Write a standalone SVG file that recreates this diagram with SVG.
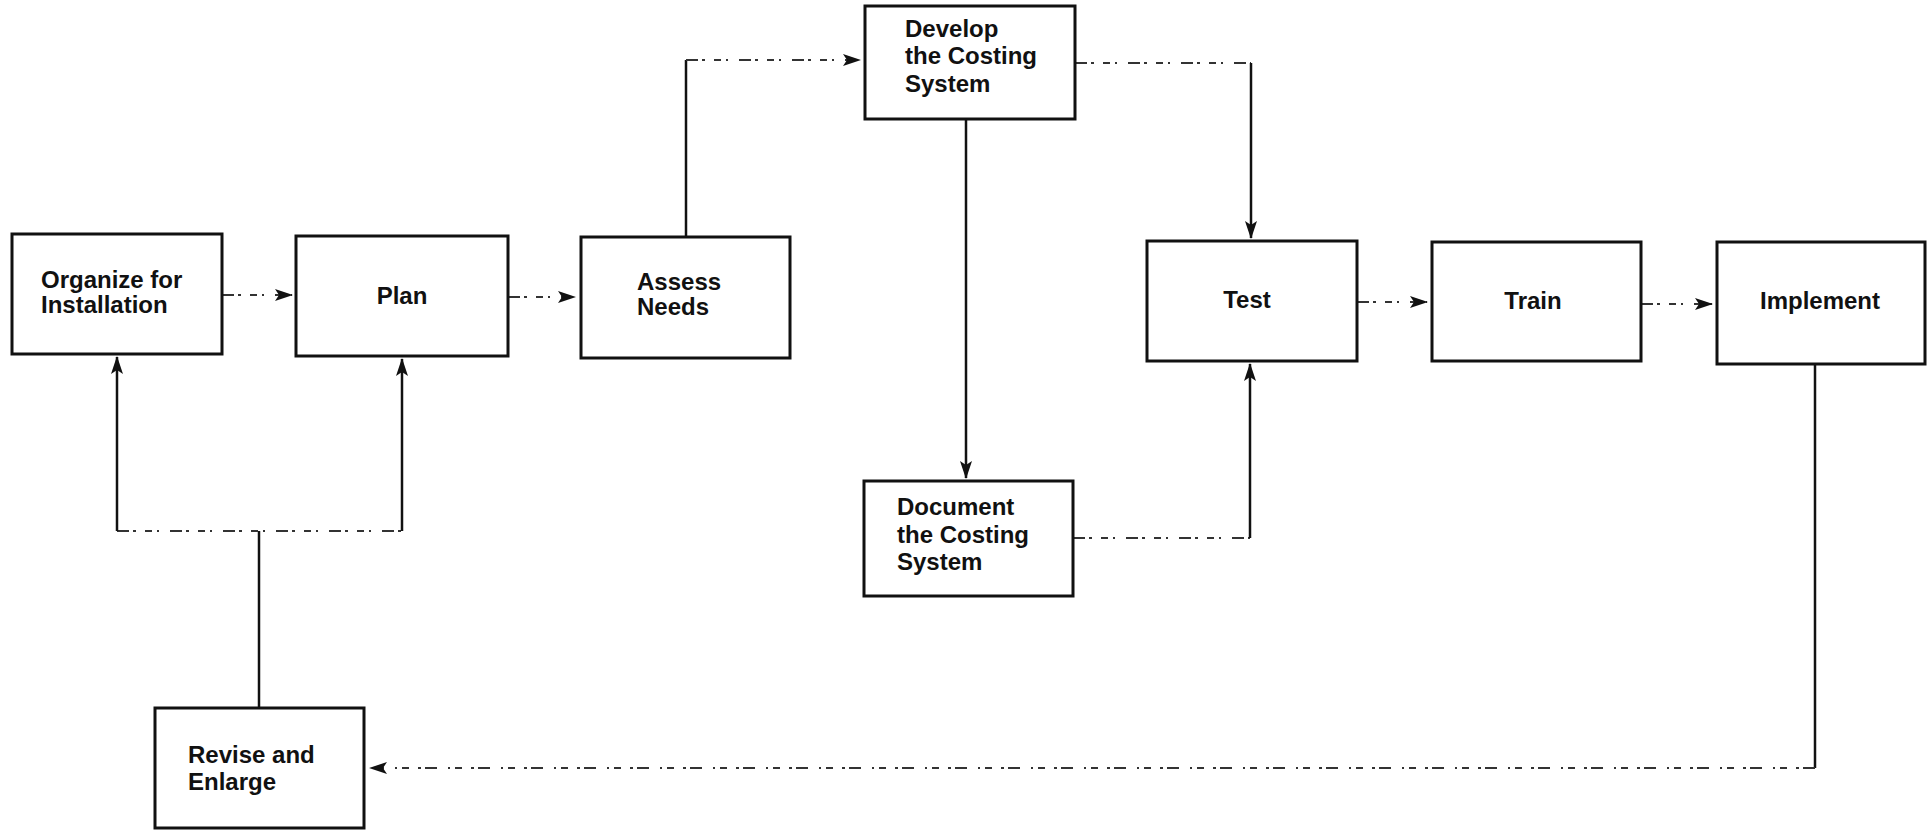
<svg xmlns="http://www.w3.org/2000/svg" width="1927" height="832" viewBox="0 0 1927 832">
  <style>
    .box { fill: #fff; stroke: #111; stroke-width: 3; }
    .lbl { font-family: "Liberation Sans", Arial, sans-serif; font-size: 24px; font-weight: bold; fill: #111; }
    .mid { text-anchor: middle; }
    .solid { fill: none; stroke: #111; stroke-width: 2.5; }
    .dash { fill: none; stroke: #333; stroke-width: 2; stroke-dasharray: 12 4 3 9 7 5 2 11; }
  </style>
  <defs>
    <marker id="arrow" viewBox="0 0 18 12" refX="17" refY="6" markerWidth="18" markerHeight="12" markerUnits="userSpaceOnUse" orient="auto">
      <path d="M0,0 L18,6 L0,12 L4,6 Z" fill="#111"/>
    </marker>
  </defs>
  <rect width="1927" height="832" fill="#fff"/>

  <g id="connectors">
    <!-- Organize -> Plan -->
    <path class="dash" d="M222,295 H292" marker-end="url(#arrow)"/>
    <!-- Plan -> Assess -->
    <path class="dash" d="M508,297 H575" marker-end="url(#arrow)"/>
    <!-- Assess -> Develop -->
    <path class="solid" d="M686,237 V60"/>
    <path class="dash" d="M686,60 H860" marker-end="url(#arrow)"/>
    <!-- Develop -> Test -->
    <path class="dash" d="M1075,63 H1251"/>
    <path class="solid" d="M1251,63 V238" marker-end="url(#arrow)"/>
    <!-- Develop -> Document -->
    <path class="solid" d="M966,119 V478" marker-end="url(#arrow)"/>
    <!-- Document -> Test -->
    <path class="dash" d="M1073,538 H1250"/>
    <path class="solid" d="M1250,538 V364" marker-end="url(#arrow)"/>
    <!-- Test -> Train -->
    <path class="dash" d="M1357,302 H1427" marker-end="url(#arrow)"/>
    <!-- Train -> Implement -->
    <path class="dash" d="M1641,304 H1712" marker-end="url(#arrow)"/>
    <!-- Implement -> Revise -->
    <path class="solid" d="M1815,364 V768"/>
    <path class="dash" d="M1815,768 H370" marker-end="url(#arrow)"/>
    <!-- Revise -> Organize / Plan -->
    <path class="solid" d="M259,708 V531"/>
    <path class="dash" d="M117,531 H402"/>
    <path class="solid" d="M117,531 V357" marker-end="url(#arrow)"/>
    <path class="solid" d="M402,531 V359" marker-end="url(#arrow)"/>
  </g>

  <g id="organize">
    <rect class="box" x="12" y="234" width="210" height="120"/>
    <text class="lbl" x="41" y="288">Organize for</text>
    <text class="lbl" x="41" y="313">Installation</text>
  </g>
  <g id="plan">
    <rect class="box" x="296" y="236" width="212" height="120"/>
    <text class="lbl mid" x="402" y="304">Plan</text>
  </g>
  <g id="assess">
    <rect class="box" x="581" y="237" width="209" height="121"/>
    <text class="lbl" x="637" y="290">Assess</text>
    <text class="lbl" x="637" y="315">Needs</text>
  </g>
  <g id="develop">
    <rect class="box" x="865" y="6" width="210" height="113"/>
    <text class="lbl" x="905" y="37">Develop</text>
    <text class="lbl" x="905" y="64">the Costing</text>
    <text class="lbl" x="905" y="92">System</text>
  </g>
  <g id="document">
    <rect class="box" x="864" y="481" width="209" height="115"/>
    <text class="lbl" x="897" y="515">Document</text>
    <text class="lbl" x="897" y="543">the Costing</text>
    <text class="lbl" x="897" y="570">System</text>
  </g>
  <g id="test">
    <rect class="box" x="1147" y="241" width="210" height="120"/>
    <text class="lbl mid" x="1247" y="308">Test</text>
  </g>
  <g id="train">
    <rect class="box" x="1432" y="242" width="209" height="119"/>
    <text class="lbl mid" x="1533" y="309">Train</text>
  </g>
  <g id="implement">
    <rect class="box" x="1717" y="242" width="208" height="122"/>
    <text class="lbl mid" x="1820" y="309">Implement</text>
  </g>
  <g id="revise">
    <rect class="box" x="155" y="708" width="209" height="120"/>
    <text class="lbl" x="188" y="763">Revise and</text>
    <text class="lbl" x="188" y="790">Enlarge</text>
  </g>
</svg>
